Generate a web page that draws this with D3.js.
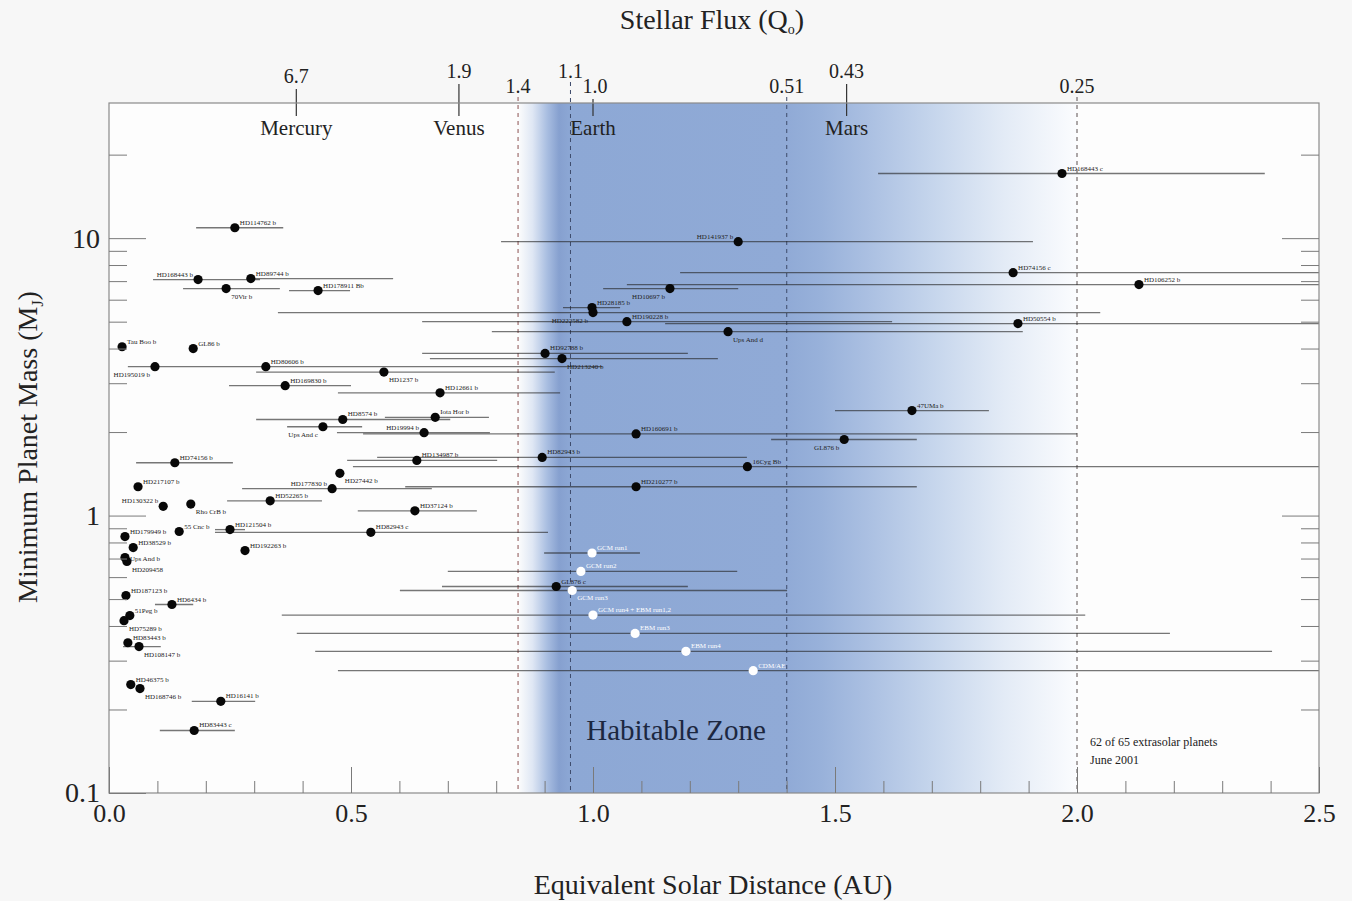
<!DOCTYPE html>
<html lang="en">
<head>
<meta charset="utf-8">
<title>Extrasolar planets and the habitable zone</title>
<style>
  body { margin: 0; background: #f7f7f7; }
  svg text { font-family: "Liberation Serif", "Times New Roman", serif; }
  .axis path { display: none; }
  .axis line { stroke: #7a7a7a; stroke-width: 1; }
  .axis text { font-size: 26px; fill: #222; font-family: "Liberation Serif", serif; }
  .range { stroke: rgba(35, 35, 35, 0.62); stroke-width: 1.3; }
  .plabel { font-size: 7px; fill: #222; }
  .wlabel { font-size: 7px; fill: #fff; }
</style>
</head>
<body>
<div id="chart"></div>
<script src="https://cdn.jsdelivr.net/npm/d3@7"></script>
<script>
// ---- data (equivalent solar distance in AU, minimum mass in Jupiter masses) ----
var names = ["HD114762 b","HD168443 b","HD89744 b","70Vir b","HD178911 Bb","Tau Boo b","GL86 b",
  "HD195019 b","HD80606 b","HD1237 b","HD169830 b","HD12661 b","HD8574 b","Iota Hor b","Ups And c",
  "HD19994 b","HD74156 b","HD134987 b","HD82943 b","HD27442 b","HD177830 b","HD210277 b","16Cyg Bb",
  "HD217107 b","HD130322 b","Rho CrB b","HD52265 b","HD37124 b","HD179949 b","55 Cnc b","HD121504 b",
  "HD82943 c","HD38529 b","Ups And b","HD209458","HD192263 b","HD187123 b","HD6434 b","51Peg b",
  "HD75289 b","HD83443 b","HD108147 b","HD46375 b","HD168746 b","HD16141 b","HD83443 c",
  "HD168443 c","HD141937 b","HD74156 c","HD106252 b","HD10697 b","HD28185 b","HD222582 b",
  "HD190228 b","HD50554 b","Ups And d","HD92788 b","HD213240 b","47UMa b","HD160691 b","GL876 b","GL876 c"];
var dist = [0.260,0.184,0.293,0.242,0.432,0.027,0.174,
  0.095,0.324,0.568,0.364,0.684,0.483,0.674,0.442,
  0.651,0.136,0.636,0.895,0.477,0.461,1.089,1.319,
  0.060,0.112,0.169,0.333,0.632,0.033,0.145,0.250,
  0.541,0.050,0.033,0.037,0.281,0.035,0.130,0.043,
  0.031,0.039,0.062,0.045,0.064,0.231,0.176,
  1.969,1.300,1.868,2.128,1.159,0.998,1.000,
  1.070,1.878,1.279,0.901,0.936,1.659,1.089,1.519,0.924];
var mass = [10.9,7.09,7.15,6.58,6.47,4.06,4.00,
  3.44,3.44,3.29,2.94,2.77,2.22,2.26,2.09,
  1.99,1.55,1.58,1.62,1.42,1.25,1.27,1.50,
  1.27,1.08,1.10,1.13,1.04,0.84,0.876,0.89,
  0.87,0.767,0.706,0.683,0.748,0.515,0.478,0.436,
  0.418,0.348,0.337,0.246,0.238,0.214,0.168,
  17.1,9.71,7.51,6.80,6.58,5.62,5.39,
  5.00,4.92,4.60,3.84,3.68,2.39,1.97,1.88,0.555];
// orbital range (periastron / apastron), null where too short to show
var distLo = [0.180,0.091,0.291,0.153,0.372,null,null,
  null,0.039,0.304,0.248,0.473,0.304,0.570,0.368,
  0.471,0.056,0.492,0.554,null,0.275,0.612,0.504,
  null,null,null,0.244,0.514,null,null,0.219,
  0.219,null,null,null,null,null,0.095,null,
  null,null,0.029,null,null,0.171,0.105,
  1.589,0.810,1.180,1.070,1.021,0.938,0.349,
  0.647,1.149,0.791,0.647,0.663,1.500,0.525,1.368,0.688];
var distHi = [0.360,0.312,0.587,0.353,0.498,null,null,
  null,1.019,0.921,0.500,0.932,0.705,0.785,0.523,
  0.787,0.256,0.802,1.318,null,0.667,1.669,2.5,
  null,null,null,0.440,0.760,null,null,0.281,
  0.907,null,null,null,null,null,0.174,null,
  null,null,0.107,null,null,0.302,0.260,
  2.388,1.909,2.5,2.5,1.300,1.056,2.048,
  1.618,2.5,1.888,1.196,1.258,1.818,2.0,1.669,1.196];

// climate-model points (white)
var modelNames = ["GCM run1","GCM run2","GCM run3","GCM run4 + EBM run1,2","EBM run3","EBM run4","CDM/AE"];
var modelDist = [0.998,0.975,0.957,1.000,1.087,1.192,1.331];
var modelMass = [0.733,0.629,0.537,0.438,0.376,0.324,0.276];
var modelLo = [0.899,0.700,0.601,0.357,0.388,0.426,0.473];
var modelHi = [1.097,1.298,1.401,2.017,2.192,2.403,2.5];

// solar system planets on the top axis (stellar flux)
var solarNames = ["Mercury","Venus","Earth","Mars"];
var solarDist = [0.387,0.723,1.0,1.524];
var solarFlux = ["6.7","1.9","1.0","0.43"];
// habitable zone boundaries (stellar flux)
var hzFlux = [1.4,1.1,0.51,0.25];
var hzFluxLabel = ["1.4","1.1","0.51","0.25"];

var xTickLabels = ["0.0","0.5","1.0","1.5","2.0","2.5"];
var yTickLabels = ["0.1","1","10"];

// ---- layout ----
var W = 1352, H = 901;
var X0 = 109, X1 = 1319, Y0 = 103, Y1 = 793;

var svg = d3.select("#chart").append("svg")
  .attr("width", W).attr("height", H);

var x = d3.scaleLinear().domain([0, 2.5]).range([X0, X1]);
var y = d3.scaleLog().domain([0.1, 30.7]).range([Y1, Y0]);

svg.append("rect").attr("x", X0).attr("y", Y0)
  .attr("width", X1 - X0).attr("height", Y1 - Y0).attr("fill", "#fdfdfd");

// habitable zone gradient
var hzIn = 1 / Math.sqrt(hzFlux[0]), hzOut = 1 / Math.sqrt(hzFlux[3]);
var grad = svg.append("defs").append("linearGradient").attr("id", "hz")
  .attr("gradientUnits", "userSpaceOnUse")
  .attr("x1", x(hzIn)).attr("x2", x(hzOut)).attr("y1", 0).attr("y2", 0);
[[0.845,"#fdfdfd"],[0.875,"#dfe7f4"],[0.905,"#a9bee1"],[0.93,"#86a0cf"],[0.955,"#8da8d5"],
 [1.40,"#90aad6"],[1.47,"#98b1da"],[1.57,"#abc0e2"],[1.70,"#c5d5ec"],[1.85,"#e3ebf6"],[2.0,"#fbfcfe"]]
  .forEach(function(s) {
    grad.append("stop").attr("offset", (s[0] - hzIn) / (hzOut - hzIn)).attr("stop-color", s[1]);
  });
svg.append("rect").attr("x", x(hzIn)).attr("y", Y0)
  .attr("width", x(hzOut) - x(hzIn)).attr("height", Y1 - Y0).attr("fill", "url(#hz)");

// dashed HZ boundaries with flux labels
var hzLabelY = [93, 78, 93, 93];
var hzColor = ["#8a5050", "#3d4b6b", "#3d4b6b", "#5a5050"];
hzFlux.forEach(function(f, i) {
  var xx = x(1 / Math.sqrt(f));
  svg.append("line").attr("x1", xx).attr("x2", xx)
    .attr("y1", hzLabelY[i] + 4).attr("y2", Y1)
    .attr("stroke", hzColor[i]).attr("stroke-width", 1).attr("stroke-dasharray", "4,4");
  svg.append("text").attr("x", xx).attr("y", hzLabelY[i])
    .attr("text-anchor", "middle").style("font-size", "20px").attr("fill", "#222")
    .text(hzFluxLabel[i]);
});

// solar system planet markers
var solarLabelY = [83, 78, 93, 78];
var solarLabelDx = [0, 0, 2, 0];
solarNames.forEach(function(n, i) {
  var xx = x(solarDist[i]);
  svg.append("line").attr("x1", xx).attr("x2", xx)
    .attr("y1", solarLabelY[i] + 6).attr("y2", Y0 + 13)
    .attr("stroke", "#333").attr("stroke-width", 1.2);
  svg.append("text").attr("x", xx + solarLabelDx[i]).attr("y", solarLabelY[i])
    .attr("text-anchor", "middle").style("font-size", "20px").attr("fill", "#222")
    .text(solarFlux[i]);
  svg.append("text").attr("x", xx).attr("y", 135)
    .attr("text-anchor", "middle").style("font-size", "21px").attr("fill", "#222")
    .text(n);
});

// orbital ranges
var planets = names.map(function(n, i) {
  return { name: n, d: dist[i], m: mass[i], lo: distLo[i], hi: distHi[i] };
});
var models = modelNames.map(function(n, i) {
  return { name: n, d: modelDist[i], m: modelMass[i], lo: modelLo[i], hi: modelHi[i] };
});

svg.selectAll(".range").data(planets.concat(models).filter(function(d) { return d.lo != null; }))
  .enter().append("line").attr("class", "range")
  .attr("x1", function(d) { return x(d.lo); })
  .attr("x2", function(d) { return x(d.hi); })
  .attr("y1", function(d) { return y(d.m); })
  .attr("y2", function(d) { return y(d.m); });

// label placement
var labelSide = {
  "HD168443 b": "l", "70Vir b": "b", "HD195019 b": "bl", "HD1237 b": "b", "Ups And c": "bl",
  "HD19994 b": "l", "HD27442 b": "b", "HD177830 b": "l", "HD130322 b": "l", "Rho CrB b": "b",
  "Ups And b": "m", "HD209458": "b", "HD75289 b": "b", "HD108147 b": "b", "HD168746 b": "b",
  "HD141937 b": "l", "HD10697 b": "bl", "HD222582 b": "bl", "Ups And d": "b", "HD213240 b": "b",
  "GL876 b": "bl", "GCM run3": "b"
};
function lx(d) {
  var s = labelSide[d.name] || "r";
  return x(d.d) + (s === "l" || s === "bl" ? -5 : 5);
}
function ly(d) {
  var s = labelSide[d.name] || "r";
  return y(d.m) + (s === "b" || s === "bl" ? 10 : (s === "m" ? 3 : -3));
}
function la(d) {
  var s = labelSide[d.name] || "r";
  return (s === "l" || s === "bl") ? "end" : "start";
}

svg.selectAll(".pdot").data(planets).enter().append("circle")
  .attr("cx", function(d) { return x(d.d); })
  .attr("cy", function(d) { return y(d.m); })
  .attr("r", 4.6).attr("fill", "#080808");
svg.selectAll(".plabel").data(planets).enter().append("text").attr("class", "plabel")
  .attr("x", lx).attr("y", ly).attr("text-anchor", la)
  .text(function(d) { return d.name; });

svg.selectAll(".wdot").data(models).enter().append("circle")
  .attr("cx", function(d) { return x(d.d); })
  .attr("cy", function(d) { return y(d.m); })
  .attr("r", 4.6).attr("fill", "#ffffff");
svg.selectAll(".wlabel").data(models).enter().append("text").attr("class", "wlabel")
  .attr("x", lx).attr("y", ly).attr("text-anchor", la)
  .text(function(d) { return d.name; });

// frame
svg.append("rect").attr("x", X0).attr("y", Y0)
  .attr("width", X1 - X0).attr("height", Y1 - Y0)
  .attr("fill", "none").attr("stroke", "#8a8a8a").attr("stroke-width", 1.2);

// x axis (ticks inside the frame)
var xMinor = d3.range(1, 25).map(function(i) { return i / 10; }).filter(function(v) { return Math.round(v * 10) % 5 !== 0; });
var xMajor = xTickLabels.map(Number);
svg.append("g").attr("class", "axis").attr("transform", "translate(0," + Y1 + ")")
  .call(d3.axisBottom(x).tickValues(xMinor).tickSize(-12).tickFormat(""));
svg.append("g").attr("class", "axis").attr("transform", "translate(0," + Y1 + ")")
  .call(d3.axisBottom(x).tickValues(xMajor).tickSize(-26).tickPadding(11)
    .tickFormat(function(d, i) { return xTickLabels[i]; }));

// y axes, left and right
var yMajor = yTickLabels.map(Number);
var yMinor = [0.2,0.3,0.4,0.5,0.6,0.7,0.8,0.9,2,3,4,5,6,7,8,9,20];
svg.append("g").attr("class", "axis").attr("transform", "translate(" + X0 + ",0)")
  .call(d3.axisLeft(y).tickValues(yMinor).tickSize(-18).tickFormat(""));
svg.append("g").attr("class", "axis yl").attr("transform", "translate(" + X0 + ",0)")
  .call(d3.axisLeft(y).tickValues(yMajor).tickSize(-37).tickPadding(9)
    .tickFormat(function(d, i) { return yTickLabels[i]; }));
svg.selectAll(".yl text").style("font-size", "28px");
svg.append("g").attr("class", "axis").attr("transform", "translate(" + X1 + ",0)")
  .call(d3.axisRight(y).tickValues(yMinor).tickSize(-18).tickFormat(""));
svg.append("g").attr("class", "axis").attr("transform", "translate(" + X1 + ",0)")
  .call(d3.axisRight(y).tickValues(yMajor.slice(1)).tickSize(-37).tickFormat(""));

// titles
var t1 = svg.append("text").attr("x", 712).attr("y", 29).attr("text-anchor", "middle")
  .style("font-size", "28px").attr("fill", "#222");
t1.append("tspan").text("Stellar Flux (Q");
t1.append("tspan").attr("dy", 5).style("font-size", "14px").text("o");
t1.append("tspan").attr("dy", -5).text(")");

var t2 = svg.append("text").attr("transform", "translate(37,447) rotate(-90)")
  .attr("text-anchor", "middle").style("font-size", "28px").attr("fill", "#222");
t2.append("tspan").text("Minimum Planet Mass (M");
t2.append("tspan").attr("dy", 6).style("font-size", "16px").text("J");
t2.append("tspan").attr("dy", -6).text(")");

svg.append("text").attr("x", 713).attr("y", 894).attr("text-anchor", "middle")
  .style("font-size", "28px").attr("fill", "#222").text("Equivalent Solar Distance (AU)");

svg.append("text").attr("x", 676).attr("y", 740).attr("text-anchor", "middle")
  .style("font-size", "29px").attr("fill", "#1c2740").text("Habitable Zone");

svg.append("text").attr("x", 1090).attr("y", 746)
  .style("font-size", "12px").attr("fill", "#222").text("62 of 65 extrasolar planets");
svg.append("text").attr("x", 1090).attr("y", 764)
  .style("font-size", "12px").attr("fill", "#222").text("June 2001");
</script>
</body>
</html>
